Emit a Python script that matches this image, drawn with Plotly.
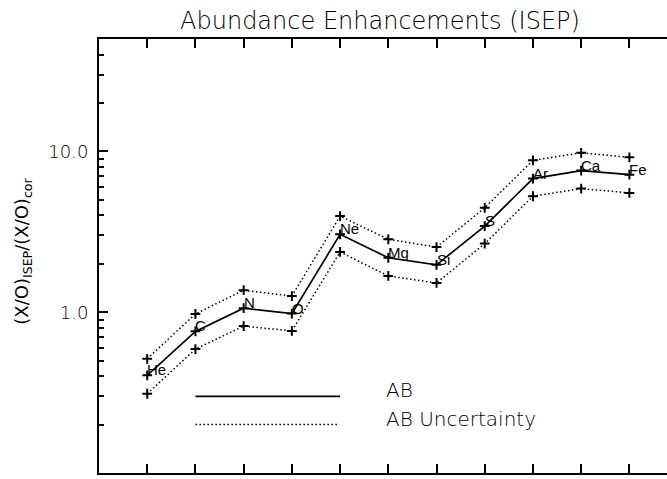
import math
import plotly.graph_objects as go

# Element abundance enhancements (ISEP relative to corrected values), normalised to O
elements = ["He", "C", "N", "O", "Ne", "Mg", "Si", "S", "Ar", "Ca", "Fe"]
ab = [0.405, 0.76, 1.06, 0.98, 3.05, 2.18, 1.97, 3.43, 6.78, 7.6, 7.17]
ab_upper = [0.513, 0.975, 1.37, 1.26, 3.96, 2.84, 2.54, 4.46, 8.8, 9.8, 9.18]
ab_lower = [0.311, 0.59, 0.82, 0.765, 2.37, 1.68, 1.52, 2.67, 5.26, 5.87, 5.52]
xpos = list(range(1, len(elements) + 1))

# Axis ticks
y_major = [0.1, 1.0, 10.0]
y_major_text = ["0.1", "1.0", "10.0"]
y_minor = [0.2, 0.3, 0.4, 0.5, 0.6, 0.7, 0.8, 0.9,
           2, 3, 4, 5, 6, 7, 8, 9, 20, 30, 40]

# In-plot legend (data coordinates); each label sits on its sample line's level
legend_labels = ["AB", "AB Uncertainty"]
legend_line_x = [[2, 5], [2, 4.95]]
legend_line_y = [0.3, 0.2]
legend_text_x = 5.92

HERSHEY = dict(family="DejaVu Sans", color="black", weight=200)
LABEL = dict(family="Liberation Sans, Arial", color="black")

DOT = "1.5px,2.5px"
marker = dict(symbol="cross-thin", size=7, line=dict(width=2, color="black"))

fig = go.Figure()
for ys, dash in [(ab_upper, DOT), (ab_lower, DOT), (ab, "solid")]:
    fig.add_trace(go.Scatter(
        x=xpos, y=ys, mode="lines+markers",
        line=dict(color="black", width=1.7 if dash == "solid" else 1.5, dash=dash),
        marker=marker, showlegend=False, hoverinfo="skip",
    ))

# legend sample lines
for (x0, x1), yv, dash in zip(legend_line_x, legend_line_y, ["solid", DOT]):
    fig.add_trace(go.Scatter(
        x=[x0, x1], y=[yv, yv], mode="lines",
        line=dict(color="black", width=1.7 if dash == "solid" else 1.5, dash=dash),
        showlegend=False, hoverinfo="skip",
    ))

annotations = []
# element labels sit just above-right of each point (log axis -> log10 position)
for x, y, name in zip(xpos, ab, elements):
    annotations.append(dict(
        x=x, y=math.log10(y), xref="x", yref="y", text=name, showarrow=False,
        xanchor="left", yanchor="bottom", xshift=-2, yshift=-5,
        font=dict(size=15, **LABEL),
    ))
for txt, yv in zip(legend_labels, legend_line_y):
    annotations.append(dict(
        x=legend_text_x, y=math.log10(yv), xref="x", yref="y", text=txt,
        showarrow=False, xanchor="left", yanchor="bottom", yshift=-8,
        font=dict(size=20, **HERSHEY),
    ))
# y-axis title
annotations.append(dict(
    x=-76 / 568, y=0.51, xref="paper", yref="paper",
    text="(X/O)<sub>ISEP</sub>/(X/O)<sub>cor</sub>", showarrow=False,
    textangle=-90, xanchor="center", yanchor="middle",
    font=dict(size=18, family="DejaVu Sans", color="black"),
))

fig.update_layout(
    width=667, height=479,
    margin=dict(l=99, r=0, t=39, b=6),
    paper_bgcolor="white", plot_bgcolor="white",
    title=dict(
        text="Abundance Enhancements (ISEP)",
        x=380 / 667, xref="container", xanchor="center",
        y=1 - 21 / 479, yref="container", yanchor="middle",
        font=dict(size=24, **HERSHEY),
    ),
    annotations=annotations,
    showlegend=False,
)

fig.update_xaxes(
    range=[0, 11.78], tickvals=xpos, showticklabels=False,
    ticks="inside", ticklen=9, tickwidth=2, tickcolor="black",
    showline=True, linewidth=2, linecolor="black", mirror="ticks",
    showgrid=False, zeroline=False,
)
fig.update_yaxes(
    type="log", range=[-1, 1.699],
    tickvals=y_major, ticktext=y_major_text,
    ticks="inside", ticklen=9, tickwidth=2, tickcolor="black",
    tickfont=dict(size=18, **HERSHEY), ticklabelstandoff=5,
    minor=dict(tickvals=y_minor, ticks="inside", ticklen=5,
               tickwidth=2, tickcolor="black", showgrid=False),
    showline=True, linewidth=2, linecolor="black",
    showgrid=False, zeroline=False,
)

fig.write_html("out.html")
